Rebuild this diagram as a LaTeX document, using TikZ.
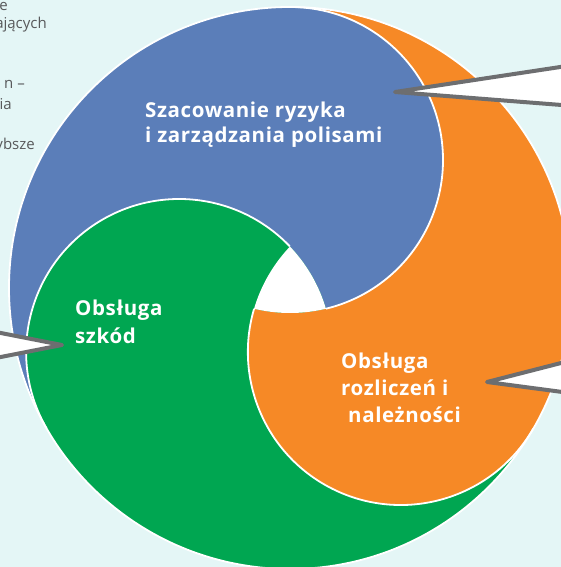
\documentclass[tikz,border=0pt]{standalone}
\usepackage{fontspec}
\setmainfont{Open Sans}
\usetikzlibrary{calc}
\definecolor{bgc}{RGB}{228,246,246}
\definecolor{bluec}{RGB}{91,126,185}
\definecolor{greenc}{RGB}{0,166,81}
\definecolor{orangec}{RGB}{246,137,38}
\definecolor{callgray}{RGB}{109,110,112}
\definecolor{textgray}{RGB}{88,89,91}
\begin{document}
\begin{tikzpicture}[x=1pt,y=1pt,
  sep/.style={white, line width=1.8pt},
  callout/.style={fill=white, draw=callgray, line width=4pt, line join=round, line cap=round},
  lbl/.style={text=white, align=left, anchor=base west, inner sep=0pt},
  frag/.style={text=textgray, font=\fontsize{15}{18}\selectfont, anchor=base east, inner sep=0pt}]
\useasboundingbox (0,0) rectangle (561,567);
\clip (0,0) rectangle (561,567);
\fill[bgc] (0,0) rectangle (561,567);
\def\R{281}\def\r{153}\def\d{128}
\coordinate (C) at (290,279);
\coordinate (HB) at ($(C)+(90:\d)$);
\coordinate (HG) at ($(C)+(210:\d)$);
\coordinate (HO) at ($(C)+(330:\d)$);
% tails
\fill[bluec] (C) -- ($(C)+(90:\R)$) arc[start angle=90, end angle=210, radius=\R] -- cycle;
\fill[greenc] (C) -- ($(C)+(210:\R)$) arc[start angle=210, end angle=330, radius=\R] -- cycle;
\fill[orangec] (C) -- ($(C)+(330:\R)$) arc[start angle=330, end angle=450, radius=\R] -- cycle;
% heads
\fill[bluec] (HB) circle[radius=\r];
\fill[greenc] (HG) circle[radius=\r];
\begin{scope}
  \clip (-50,-50) -- (650,-50) -- (650,650) -- (-50,650) -- cycle
        ($(HB)+(\r,0)$) arc[start angle=0, end angle=-360, radius=\r];
  \fill[orangec] (HO) circle[radius=\r];
\end{scope}
% central gap
\begin{scope}
  \clip (HB) circle[radius=\r];
  \clip (HG) circle[radius=\r];
  \fill[white] (HO) circle[radius=\r];
\end{scope}
% white separators
\draw[sep] ($(HB)+(90:\r)$) arc[start angle=90, end angle=-76.4, radius=\r];
\draw[sep] ($(HG)+(210:\r)$) arc[start angle=210, end angle=43.6, radius=\r];
\draw[sep] ($(HO)+(330:\r)$) arc[start angle=330, end angle=163.6, radius=\r];
\draw[sep] (C) circle[radius=\R];
% callouts
\coordinate (t1) at (395,475); \coordinate (t1a) at (600,506); \coordinate (t1b) at (600,459);
\draw[callout] (t1a) -- (t1) -- (t1b);
\coordinate (t2) at (62,222); \coordinate (t2a) at (-40,242); \coordinate (t2b) at (-40,202);
\draw[callout] (t2a) -- (t2) -- (t2b);
\coordinate (t3) at (487,185); \coordinate (t3a) at (600,214); \coordinate (t3b) at (600,170);
\draw[callout] (t3a) -- (t3) -- (t3b);
% labels (anchored at the baseline of the last line)
\node[lbl, font=\bfseries\fontsize{20.5}{25}\selectfont\addfontfeatures{LetterSpace=3}] (blueLabel) at (145,424.3) {Szacowanie ryzyka\\i zarządzania polisami};
\node[lbl, font=\bfseries\fontsize{20.5}{28}\selectfont\addfontfeatures{LetterSpace=3}] (greenLabel) at (75,223) {Obsługa\\szkód};
\node[lbl, font=\bfseries\fontsize{20.5}{27}\selectfont\addfontfeatures{LetterSpace=3}] (orangeLabel) at (341,144) {Obsługa\\rozliczeń i\\\hspace*{7pt}należności};
% cut-off side text
\node[frag] (f1) at (8,556) {e};
\node[frag] (f2) at (47,538) {ających};
\node[frag] (f3) at (25,478) {n –};
\node[frag] (f4) at (12,457) {ia};
\node[frag] (f5) at (35,417) {ybsze};
\end{tikzpicture}
\end{document}
